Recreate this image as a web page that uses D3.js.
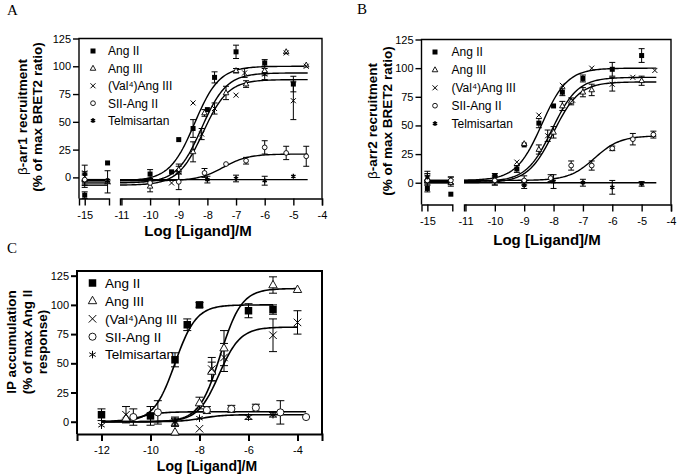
<!DOCTYPE html>
<html>
<head>
<meta charset="utf-8">
<script src="https://cdn.jsdelivr.net/npm/d3@7"></script>
<style>
  body { margin: 0; background: #fff; }
  svg text { font-family: "Liberation Sans", Arial, sans-serif; fill: #000; }
</style>
</head>
<body>
<svg id="fig" width="693" height="475"></svg>
<script>
// series names and marker kinds (legend order)
const names = ["Ang II", "Ang III", "(Val\u2074)Ang III", "SII-Ang II", "Telmisartan"];
const markers = ["square", "triangle", "times", "circle", "star"];

// tick values
const yTicks = [0, 25, 50, 75, 100, 125];
const xTicksLeft = [-15];
const xTicksRight = [-11, -10, -9, -8, -7, -6, -5, -4];
const xTicksC = [-12, -10, -8, -6, -4];

// Panel A: beta-arr1, points are [log conc, mean, sem]
const aAngII = [[-15, -16, 3], [-14.2, 13, 0], [-10, 3, 4], [-9.25, 5, 0], [-9, 34, 0], [-8.5, 44, 8], [-8, 61, 0], [-7.75, 90, 5], [-7, 113, 6], [-6, 103, 3], [-5, 84, 7]];
const aAngIII = [[-15, -2, 5], [-14.2, -4, 0], [-10, -8, 5], [-9, 7, 3], [-8.5, 23, 9], [-8.1, 58, 3], [-7.35, 76, 6], [-7, 96, 2], [-6.65, 84, 3], [-6, 96, 4], [-5.25, 113, 0], [-4.55, 101, 0]];
const aVal4 = [[-15, 4, 7], [-14.2, -4, 10], [-9.25, -5, 0], [-9, 5, 7], [-8.5, 67, 0], [-8.2, 39, 5], [-7.75, 62, 5], [-7, 74, 0], [-6.7, 94, 4], [-6, 93, 5], [-5.25, 112, 0], [-5, 69, 17], [-4.55, 100, 0]];
const aSII = [[-15, -2, 7], [-14.2, -3, 0], [-10, -5, 0], [-9, -4, 7], [-8.1, 4, 4], [-7.35, 12, 0], [-6.65, 15, 3], [-6, 27, 6], [-5.25, 22, 6], [-4.55, 19, 9]];
const aTelmi = [[-15, 3, 0], [-14.2, -3, 0], [-8, -2, 3], [-7, -1, 3], [-6, -3, 4], [-5, 1, 0]];
// fitted curves [bottom, top, logEC50]
const fitA = [[-3, 100, -8.45], [-5, 94, -8.2], [-7, 88, -8.15], [-3, 21, -7.45], [-2, -2, -8]];

// Panel B: beta-arr2
const bAngII = [[-15, -5, 3], [-14.2, -10, 0], [-10, 6, 0], [-9.25, 12, 3], [-9, 33, 0], [-8.5, 52, 4], [-8, 67, 0], [-7.7, 79, 3], [-7, 91, 3], [-6, 99, 6], [-5, 111, 6]];
const bAngIII = [[-15, 3, 0], [-14.2, 0, 0], [-10, 2, 0], [-9, 34, 0], [-8.5, 29, 4], [-8, 44, 5], [-7.7, 67, 4], [-7.4, 71, 3], [-7, 79, 4], [-6.7, 81, 5], [-5, 89, 4]];
const bVal4 = [[-15, 5, 5], [-14.2, 1, 4], [-10, 3, 5], [-9.25, 18, 0], [-8.5, 59, 0], [-8.2, 41, 5], [-7.7, 85, 0], [-7.35, 72, 0], [-6.7, 100, 0], [-6, 86, 6], [-5.3, 92, 0], [-4.55, 98, 0]];
const bSII = [[-15, 2, 4], [-14.2, 2, 3], [-10, 2, 4], [-9, 2, 4], [-8.1, 4, 3], [-7.4, 15, 4], [-6.7, 15, 4], [-6, 30, 2], [-5.3, 38, 5], [-4.6, 42, 3]];
const bTelmi = [[-15, 5, 3], [-9, -2, 3], [-8, 1, 6], [-7, 0, 3], [-6, -4, 6], [-5, -1, 2]];
const fitB = [[2, 100, -8.4], [0, 88, -8.0], [1, 92, -8.05], [2, 41, -6.6], [0, 0, -8]];

// Panel C: IP accumulation
const cAngII = [[-12, 6, 5], [-10, 5, 8], [-9, 53, 6], [-8.5, 83, 5], [-8, 100, 2], [-6, 95, 6], [-5, 96, 4]];
const cAngIII = [[-11, 3, 0], [-9, -9, 0], [-8, 16, 5], [-7.5, 43, 8], [-7, 63, 15], [-5, 117, 7], [-4, 113, 0]];
const cVal4 = [[-11, 6, 7], [-9, 0, 4], [-8, -6, 0], [-7.5, 45, 10], [-7, 55, 12], [-5, 74, 14], [-4, 85, 10]];
const cSII = [[-10.7, 4, 7], [-9.7, 8, 10], [-7.7, 10, 3], [-6.7, 11, 3], [-5.7, 12, 3], [-4.7, 8, 10], [-3.65, 4, 0]];
const cTelmi = [[-12, -3, 0], [-9, 0, 3], [-8, 3, 0], [-6, 4, 2], [-5, 6, 2]];
const fitC = [[0, 100, -9.0], [0, 114, -7.15], [0, 81, -7.2], [0, 8.5, -10.4], [0, 6, -7.9]];
const spanC = [[-12, -5], [-12, -4], [-12, -4], [-12, -3.65], [-12, -3.65]];

const svg = d3.select("#fig");

function logistic(p, x) {
  return p[0] + (p[1] - p[0]) / (1 + Math.pow(10, p[2] - x));
}

function drawMarker(g, type, cx, cy, s) {
  const h = s / 2;
  if (type === "square") {
    g.append("rect").attr("x", cx - h).attr("y", cy - h).attr("width", s).attr("height", s).attr("fill", "#000");
  } else if (type === "triangle") {
    const r = s * 0.62;
    g.append("path")
      .attr("d", `M${cx},${cy - r}L${cx + r * 0.9},${cy + r * 0.6}L${cx - r * 0.9},${cy + r * 0.6}Z`)
      .attr("fill", "#fff").attr("stroke", "#000").attr("stroke-width", 0.9);
  } else if (type === "times") {
    g.append("path")
      .attr("d", `M${cx - h},${cy - h}L${cx + h},${cy + h}M${cx - h},${cy + h}L${cx + h},${cy - h}`)
      .attr("stroke", "#000").attr("stroke-width", 1);
  } else if (type === "circle") {
    g.append("circle").attr("cx", cx).attr("cy", cy).attr("r", h * 0.95)
      .attr("fill", "#fff").attr("stroke", "#000").attr("stroke-width", 0.9);
  } else {
    let d = "";
    for (let a = 90; a < 270; a += 60) {
      const dx = h * Math.cos(a * Math.PI / 180), dy = h * Math.sin(a * Math.PI / 180);
      d += `M${cx - dx},${cy - dy}L${cx + dx},${cy + dy}`;
    }
    g.append("path").attr("d", d).attr("stroke", "#000").attr("stroke-width", s > 6.5 ? 1 : 1.4);
  }
}

function drawPanel(cfg) {
  const g = svg.append("g");
  const y = d3.scaleLinear().domain(cfg.yDomain).range([cfg.bottom, cfg.top]);
  const segs = cfg.segments.map(s => d3.scaleLinear().domain(s.domain).range(s.range));
  const x = v => (segs.length > 1 && v < -12.5) ? segs[0](v) : segs[segs.length - 1](v);
  const left = cfg.segments[0].range[0];
  const right = cfg.segments[cfg.segments.length - 1].range[1];

  // frame (left, top, right); bottom comes from the x axis
  g.append("path")
    .attr("d", `M${left},${cfg.bottom}V${cfg.top}H${right}V${cfg.bottom}`)
    .attr("fill", "none").attr("stroke", "#000").attr("stroke-width", cfg.frameW);

  // x axis segments
  cfg.segments.forEach((s, i) => {
    const ax = g.append("g").attr("transform", `translate(0,${cfg.bottom})`)
      .call(d3.axisBottom(segs[i]).tickValues(s.ticks).tickSize(7).tickSizeOuter(7).tickFormat(d3.format("d")));
    ax.select(".domain").attr("stroke-width", cfg.frameW);
    ax.selectAll(".tick line").attr("stroke-width", cfg.frameW);
    ax.selectAll("text").attr("font-size", cfg.tickFont).attr("dy", "0.95em").text(d => String(d));
  });

  // y axis
  const ay = g.append("g").attr("transform", `translate(${left},0)`)
    .call(d3.axisLeft(y).tickValues(yTicks).tickSize(6).tickFormat(d3.format("d")));
  ay.select(".domain").remove();
  ay.selectAll(".tick line").attr("stroke-width", cfg.frameW);
  ay.selectAll("text").attr("font-size", cfg.tickFont).attr("x", -8);

  // fitted curves
  const line = d3.line().x(d => x(d[0])).y(d => y(d[1]));
  cfg.fits.forEach((p, i) => {
    cfg.spans(i).forEach(sp => {
      const pts = d3.range(0, 121).map(k => {
        const xv = sp[0] + (sp[1] - sp[0]) * k / 120;
        return [xv, logistic(p, xv)];
      });
      g.append("path").attr("d", line(pts)).attr("fill", "none")
        .attr("stroke", "#000").attr("stroke-width", cfg.curveW);
    });
  });

  // error bars then markers
  cfg.data.forEach(ser => {
    ser.forEach(d => {
      if (d[2] > 0) {
        const cx = x(d[0]), y0 = y(d[1] - d[2]), y1 = y(d[1] + d[2]), c = cfg.cap;
        g.append("path")
          .attr("d", `M${cx},${y0}V${y1}M${cx - c},${y0}H${cx + c}M${cx - c},${y1}H${cx + c}`)
          .attr("stroke", "#000").attr("stroke-width", 1).attr("fill", "none");
      }
    });
  });
  cfg.data.forEach((ser, i) => {
    ser.forEach(d => drawMarker(g, markers[i], x(d[0]), y(d[1]), cfg.markSize));
  });

  // legend
  names.forEach((n, i) => {
    const ly = cfg.legend.y + i * cfg.legend.step;
    drawMarker(g, markers[i], cfg.legend.mx, ly, cfg.legend.ms);
    g.append("text").attr("x", cfg.legend.tx).attr("y", ly).attr("dy", "0.36em")
      .attr("font-size", cfg.legend.font).text(n);
  });

  // y label (rotated lines)
  cfg.ylabel.lines.forEach((t, i) => {
    const tx = g.append("text")
      .attr("transform", `translate(${cfg.ylabel.xs[i]},${cfg.ylabel.cy}) rotate(-90)`)
      .attr("text-anchor", "middle").attr("font-size", cfg.ylabel.font).attr("font-weight", "bold");
    if (t.startsWith("\u03b2")) {
      tx.append("tspan").attr("font-weight", "normal").text("\u03b2");
      tx.append("tspan").text(t.slice(1));
    } else {
      tx.text(t);
    }
  });

  // x label
  g.append("text").attr("x", cfg.xlabel.x).attr("y", cfg.xlabel.y).attr("text-anchor", "middle")
    .attr("font-size", cfg.xlabel.font).attr("font-weight", "bold").text("Log [Ligand]/M");

  // panel letter
  g.append("text").attr("x", cfg.letter.x).attr("y", cfg.letter.y)
    .style("font-family", '"Liberation Serif", "Times New Roman", serif')
    .attr("font-size", 15).text(cfg.letter.t);
}

const spanAB = () => [[-15.1, -14.2], [-11.05, -4.5]];

drawPanel({
  yDomain: [-19, 125], top: 38.5, bottom: 198.5,
  segments: [
    { domain: [-15.2, -14.15], range: [79, 109], ticks: xTicksLeft },
    { domain: [-11.05, -4], range: [120, 322], ticks: xTicksRight }
  ],
  frameW: 1.4, curveW: 1.4, tickFont: 11, cap: 3, markSize: 5,
  data: [aAngII, aAngIII, aVal4, aSII, aTelmi], fits: fitA, spans: spanAB,
  legend: { mx: 93, tx: 108, y: 51, step: 17.4, ms: 5, font: 12 },
  ylabel: { lines: ["\u03b2-arr1 recruitment", "(% of max BRET2 ratio)"], xs: [27, 42], cy: 117, font: 13.5 },
  xlabel: { x: 198, y: 236, font: 15 },
  letter: { x: 7, y: 15, t: "A" }
});

drawPanel({
  yDomain: [-19, 125], top: 39.5, bottom: 204.5,
  segments: [
    { domain: [-15.2, -14.15], range: [421.5, 452.3], ticks: xTicksLeft },
    { domain: [-11.05, -4], range: [464, 671], ticks: xTicksRight }
  ],
  frameW: 1.4, curveW: 1.4, tickFont: 11, cap: 3, markSize: 5,
  data: [bAngII, bAngIII, bVal4, bSII, bTelmi], fits: fitB, spans: spanAB,
  legend: { mx: 435, tx: 451.5, y: 52, step: 17.9, ms: 5, font: 12 },
  ylabel: { lines: ["\u03b2-arr2 recruitment", "(% of max BRET2 ratio)"], xs: [377, 392], cy: 121, font: 13.5 },
  xlabel: { x: 547, y: 245, font: 15 },
  letter: { x: 357, y: 14, t: "B" }
});

drawPanel({
  yDomain: [-10.5, 129], top: 271, bottom: 434,
  segments: [
    { domain: [-13, -3], range: [77, 322], ticks: xTicksC }
  ],
  frameW: 2, curveW: 1.6, tickFont: 11, cap: 4, markSize: 7.5,
  data: [cAngII, cAngIII, cVal4, cSII, cTelmi], fits: fitC, spans: i => [spanC[i]],
  legend: { mx: 92.5, tx: 105, y: 283, step: 17.9, ms: 7.5, font: 13.5 },
  ylabel: { lines: ["IP accumulation", "(% of max Ang II", "response)"], xs: [16, 32, 47], cy: 342, font: 13.5 },
  xlabel: { x: 207, y: 471, font: 14 },
  letter: { x: 7, y: 253, t: "C" }
});
</script>
</body>
</html>
